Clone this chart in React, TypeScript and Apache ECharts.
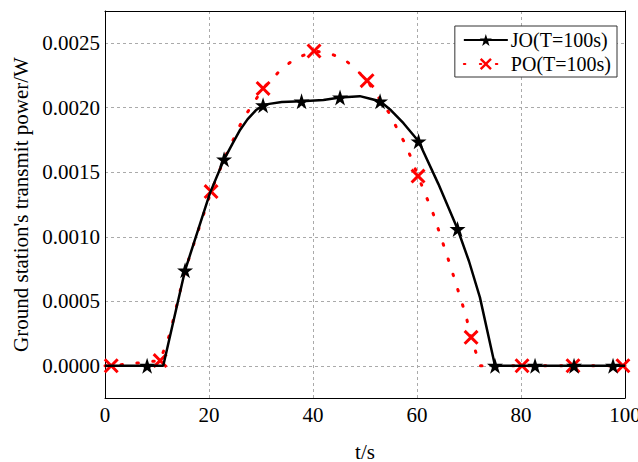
import React, { useEffect, useRef } from "react";
import * as echarts from "echarts";

// ---- data ----
const xTickValues = [0, 20, 40, 60, 80, 100];
const yTickValues = [0, 0.0005, 0.001, 0.0015, 0.002, 0.0025];

const seriesNames = ["JO(T=100s)", "PO(T=100s)"];

// JO curve (line only)
const joCurveX = [0, 11.2, 20.2, 24.5, 26, 27.4, 29, 31.6, 34, 42, 49, 51, 55, 57.4, 64.1, 70, 72.1, 100];
const joCurveY = [0, 0, 0.00134, 0.00172, 0.00183, 0.00191, 0.00198, 0.00203, 0.002045, 0.00206, 0.00209, 0.00207, 0.00198, 0.00188, 0.00141, 0.00081, 0.00053, 0];
// JO star markers
const joMarkX = [8.1, 15.4, 22.9, 30.4, 37.8, 45.2, 52.9, 60.3, 67.8, 75, 82.7, 90.2, 97.7];
const joMarkY = [0, 0.00074, 0.0016, 0.00202, 0.00205, 0.00208, 0.00205, 0.00174, 0.00106, 0, 0, 0, 0];

// PO curve (line only)
const poCurveX = [0, 12.5, 15.4, 23, 26.5, 33.7, 36.5, 43.3, 46.2, 48.7, 54.8, 56.4, 58, 63.1, 66.3, 69.4, 71.2, 72.1, 100];
const poCurveY = [0, 0.00025, 0.00074, 0.00161, 0.00191, 0.00229, 0.00238, 0.00242, 0.00237, 0.00228, 0.00195, 0.00182, 0.0017, 0.00118, 0.00079, 0.00039, 0.00012, 0, 0];
// PO cross markers
const poMarkX = [1.2, 10.6, 20.4, 30.4, 40.2, 50.4, 60.2, 70.4, 80.2, 90, 99.6];
const poMarkY = [0, 0.00004, 0.00135, 0.00215, 0.00244, 0.00221, 0.00147, 0.00022, 0, 0, 0];

const STAR =
  "path://M50,0 L61.2,34.5 L97.6,34.5 L68.2,55.9 L79.4,90.5 L50,69.1 L20.6,90.5 L31.8,55.9 L2.4,34.5 L38.8,34.5 Z";
const CROSS =
  "path://M0,14 L14,0 L50,36 L86,0 L100,14 L64,50 L100,86 L86,100 L50,64 L14,100 L0,86 L36,50 Z";

function merge(cx: number[], cy: number[], mx: number[], my: number[]) {
  const items: { x: number; y: number; mark: boolean }[] = [];
  cx.forEach((x, i) => items.push({ x, y: cy[i], mark: false }));
  mx.forEach((x, i) => items.push({ x, y: my[i], mark: true }));
  items.sort((a, b) => a.x - b.x);
  return items.map((it) =>
    it.mark ? { value: [it.x, it.y] } : { value: [it.x, it.y], symbol: "none" }
  );
}

const FONT = "'Liberation Serif', 'Times New Roman', serif";
const FS = 21;
const GRID_LINE = { color: "#aaa", type: [3, 3], width: 1 };

export default function App() {
  const ref = useRef<HTMLDivElement>(null);
  useEffect(() => {
    document.body.style.margin = "0";
    if (!ref.current) return;
    const chart = echarts.init(ref.current, null, { renderer: "svg" });
    const xMin = xTickValues[0];
    const xMax = xTickValues[xTickValues.length - 1];
    chart.setOption({
      animation: false,
      backgroundColor: "#fff",
      textStyle: { fontFamily: FONT, color: "#000" },
      grid: {
        left: 105,
        right: 13,
        top: 11,
        bottom: 64,
        outerBoundsMode: "none",
        containLabel: false,
      },
      legend: {
        data: seriesNames,
        orient: "vertical",
        right: 21,
        top: 26,
        itemWidth: 44,
        itemHeight: 15,
        itemGap: 4,
        padding: [4, 6, 3, 8],
        backgroundColor: "#fff",
        borderColor: "#333",
        borderWidth: 1,
        borderRadius: 0,
        textStyle: { fontFamily: FONT, fontSize: FS - 1, color: "#000", padding: [0, 0, 0, -2] },
      },
      xAxis: [
        {
          type: "value",
          position: "bottom",
          min: xMin,
          max: xMax,
          interval: 20,
          name: "t/s",
          nameLocation: "middle",
          nameGap: 43,
          nameTextStyle: { fontFamily: FONT, fontSize: FS, color: "#000" },
          axisLine: { show: true, onZero: false, lineStyle: { color: "#000", width: 1 } },
          axisTick: { show: false },
          axisLabel: {
            fontFamily: FONT,
            fontSize: FS,
            color: "#000",
            margin: 6,
            customValues: xTickValues,
          },
          splitLine: { show: true, lineStyle: GRID_LINE },
        },
        {
          type: "value",
          position: "top",
          min: xMin,
          max: xMax,
          axisLine: { show: true, onZero: false, lineStyle: { color: "#000", width: 1 } },
          axisTick: { show: false },
          axisLabel: { show: false },
          splitLine: { show: false },
        },
      ],
      yAxis: [
        {
          type: "value",
          position: "left",
          min: -0.00025,
          max: 0.00275,
          name: "Ground station's transmit power/W",
          nameLocation: "middle",
          nameGap: 74,
          nameTextStyle: { fontFamily: FONT, fontSize: FS, color: "#000" },
          axisLine: { show: true, onZero: false, lineStyle: { color: "#000", width: 1 } },
          axisTick: { show: false },
          axisLabel: {
            fontFamily: FONT,
            fontSize: FS,
            color: "#000",
            margin: 5,
            customValues: yTickValues,
            formatter: (v: number) => v.toFixed(4),
          },
          splitLine: { show: true, lineStyle: GRID_LINE },
        },
        {
          type: "value",
          position: "right",
          min: -0.00025,
          max: 0.00275,
          axisLine: { show: true, onZero: false, lineStyle: { color: "#000", width: 1 } },
          axisTick: { show: false },
          axisLabel: { show: false },
          splitLine: { show: false },
        },
      ],
      series: [
        {
          type: "line",
          name: seriesNames[1],
          data: merge(poCurveX, poCurveY, poMarkX, poMarkY),
          z: 3,
          symbol: CROSS,
          symbolSize: 15,
          showAllSymbol: true,
          itemStyle: { color: "#ff0000" },
          lineStyle: { color: "#ff0000", width: 3, type: [1.5, 14.5], cap: "round" },
        },
        {
          type: "line",
          name: seriesNames[0],
          data: merge(joCurveX, joCurveY, joMarkX, joMarkY),
          z: 4,
          symbol: STAR,
          symbolSize: 16,
          showAllSymbol: true,
          itemStyle: { color: "#000" },
          lineStyle: { color: "#000", width: 2.5 },
        },
      ],
    });
    return () => chart.dispose();
  }, []);
  return <div ref={ref} style={{ width: 638, height: 462 }} />;
}
